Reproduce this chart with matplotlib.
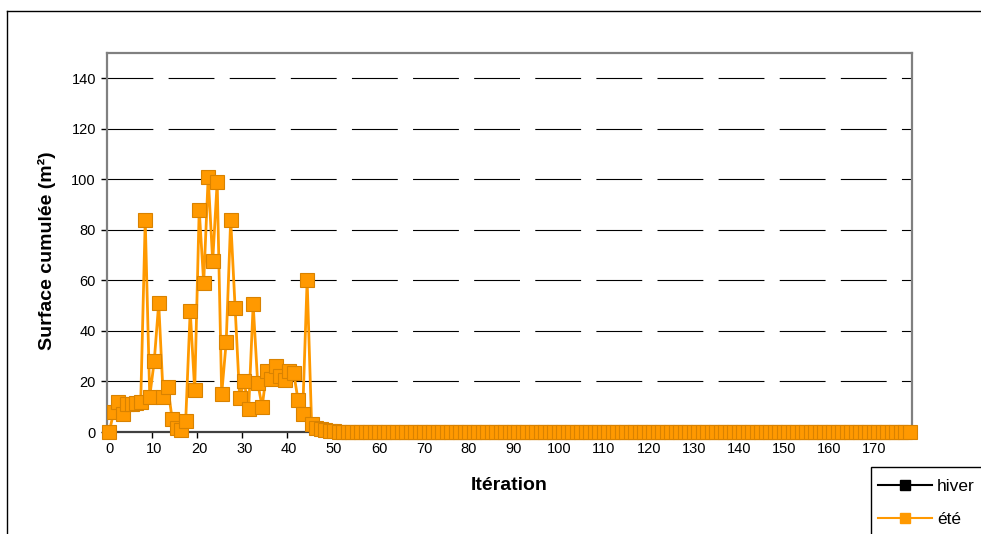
import matplotlib
matplotlib.use("Agg")
import matplotlib.pyplot as plt
from matplotlib.lines import Line2D
from matplotlib.patches import Rectangle

plt.rcParams['font.family'] = ['Liberation Sans', 'DejaVu Sans']
plt.rcParams['lines.scale_dashes'] = False

# données
iterations = list(range(179))
ete_debut = [0, 8, 12, 7, 11, 11, 11.5, 12, 84, 14, 28, 51, 14, 18, 5, 1.5,
             0.8, 4.5, 48, 16.5, 88, 59, 101, 67.5, 99, 15, 35.5, 84, 49, 13.5, 20, 9,
             50.5, 19.5, 10, 24, 21, 26, 22, 20.5, 24, 23.5, 12.5, 7, 60, 3, 1.5, 1,
             0.8, 0.5, 0.3]
ete = ete_debut + [0] * (179 - len(ete_debut))
# série hiver : aucun point visible sur le graphique
hiver_x = []
hiver = []
y_ticks = [0, 20, 40, 60, 80, 100, 120, 140]
x_ticks = list(range(0, 180, 10))

orange = "#FF9900"

fig = plt.figure(figsize=(9.81, 5.34), dpi=100)
W, H = 981, 534
ax = fig.add_axes([107 / W, 1 - 432 / H, 805 / W, 379 / H])

# grille en tirets longs
for v in y_ticks[1:]:
    ax.axhline(v, color="black", lw=0.8, ls=(0, (33, 11)), zorder=1)

ax.plot(hiver_x, hiver, color="black", lw=2, marker="s", ms=9,
        mfc="black", mec="black", clip_on=False, zorder=2)
ax.plot(iterations, ete, color=orange, lw=2, marker="s", ms=10.5,
        mfc=orange, mec="#D98200", mew=0.8, clip_on=False, zorder=3)

ax.set_xlim(-0.5, 178.5)
ax.set_ylim(0, 150)
ax.set_yticks(y_ticks)
ax.set_xticks(x_ticks)
ax.set_xticks([t - 0.5 for t in x_ticks], minor=True)
ax.tick_params(axis="x", which="major", length=0, pad=7, labelsize=10.5)
ax.tick_params(axis="x", which="minor", length=4, width=1, direction="out")
ax.tick_params(axis="y", length=4, width=1, direction="out", pad=4, labelsize=10.5)

for s in ["top", "right", "left"]:
    ax.spines[s].set_color("#808080")
    ax.spines[s].set_linewidth(1.6)
ax.spines["bottom"].set_color("#404040")
ax.spines["bottom"].set_linewidth(1.6)

fig.text(47 / W, 1 - 251 / H, "Surface cumulée (m²)", fontsize=14, fontweight="bold",
         rotation=90, ha="center", va="center")
fig.text(509 / W, 1 - 486 / H, "Itération", fontsize=14, fontweight="bold",
         ha="center", va="center")

# cadre du graphique
fig.add_artist(Line2D([7 / W, 7 / W], [0, 1 - 11 / H], color="black", lw=1))
fig.add_artist(Line2D([7 / W, 1], [1 - 11 / H, 1 - 11 / H], color="black", lw=1))

# cadre de la légende (coupé par le bord de l'image)
fig.add_artist(Rectangle((871 / W, -0.05), 0.2, 1 - 467 / H + 0.05,
                         transform=fig.transFigure, fill=False,
                         edgecolor="black", lw=1))

handles = [
    Line2D([], [], color="black", lw=1.5, marker="s", ms=7.5, mfc="black", mec="black"),
    Line2D([], [], color=orange, lw=1.5, marker="s", ms=7.5, mfc=orange, mec=orange),
]
leg = fig.legend(handles, ["hiver", "été"], loc="upper left",
                 bbox_to_anchor=(871 / W, 1 - 472 / H), fontsize=12.5,
                 handlelength=3.1, handletextpad=0.3, labelspacing=1.0,
                 borderpad=0.4, borderaxespad=0, frameon=False)

fig.savefig("out.png", dpi=100)
